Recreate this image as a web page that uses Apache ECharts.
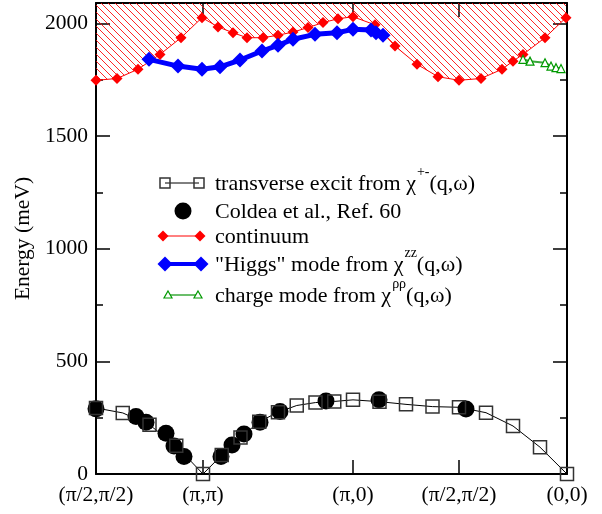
<!DOCTYPE html>
<html>
<head>
<meta charset="utf-8">
<script src="https://cdn.jsdelivr.net/npm/echarts@6/dist/echarts.min.js"></script>
<style>
  body { margin: 0; background: #fff; }
  #chart { width: 602px; height: 514px; }
</style>
</head>
<body>
<div id="chart"></div>
<script>
// x positions along the path (pixel-like units), tick labels of symmetry points
const xTickPos = [0, 107, 257, 363, 471]
const xTickLabels = ['(π/2,π/2)', '(π,π)', '(π,0)', '(π/2,π/2)', '(0,0)']

// transverse excitation from chi+-
const transX = [0, 26.75, 53.5, 80.25, 107, 125.75, 144.5, 163.25, 182, 200.75, 219.5, 238.25, 257, 283.5, 310, 336.5, 363, 390, 417, 444, 471]
const transY = [293, 271, 218, 125, 0, 84, 162, 232, 274, 304, 317, 322, 329, 321, 309, 299, 296, 272, 213, 119, 0]

// Coldea et al. experimental points
const coldeaX = [0, 40, 50, 70, 78, 88, 125, 136, 148, 164, 184, 230, 283, 370]
const coldeaY = [289, 255, 230, 181, 124, 78, 78, 129, 178, 230, 277, 324, 329, 288]

// continuum lower edge
const contX = [0, 21, 42, 64, 85, 106, 122, 137, 151, 167, 182, 197, 212, 227, 242, 257, 279, 299, 321, 342, 363, 385, 406, 417, 427, 449, 470]
const contY = [1747, 1755, 1796, 1862, 1936, 2025, 1984, 1958, 1936, 1936, 1947, 1961, 1981, 2003, 2020, 2029, 1993, 1899, 1818, 1763, 1747, 1755, 1796, 1832, 1862, 1936, 2025]

// "Higgs" mode from chi zz
const higgsX = [53, 82, 106, 124, 144, 166, 182, 197, 219, 241, 257, 275, 280, 287]
const higgsY = [1840, 1810, 1796, 1807, 1837, 1877, 1902, 1929, 1951, 1958, 1973, 1970, 1958, 1947]

// charge mode from chi rho rho
const chargeX = [427, 434, 449, 455, 460, 465]
const chargeY = [1840, 1832, 1825, 1810, 1803, 1799]

const zip = (xs, ys) => xs.map((x, i) => [x, ys[i]])

const FONT = 'Liberation Serif'

// hatch pattern for the continuum region
function makeHatch() {
    const s = 7
    const c = document.createElement('canvas')
    c.width = s
    c.height = s
    const ctx = c.getContext('2d')
    ctx.strokeStyle = 'rgba(255, 0, 0, 0.85)'
    ctx.lineWidth = 1
    ctx.beginPath()
    ctx.moveTo(0, 0)
    ctx.lineTo(s, s)
    ctx.moveTo(-1, s - 1)
    ctx.lineTo(1, s + 1)
    ctx.moveTo(s - 1, -1)
    ctx.lineTo(s + 1, 1)
    ctx.stroke()
    return c
}

const chart = echarts.init(document.getElementById('chart'))

const xCommon = {
    type: 'value',
    min: 0,
    max: 471,
    axisLine: { show: true, onZero: false, lineStyle: { color: '#000', width: 2 } },
    axisTick: { show: true, inside: true, length: 14, customValues: xTickPos, lineStyle: { color: '#000', width: 1.5 } },
    splitLine: { show: false }
}
const yCommon = {
    type: 'value',
    min: 0,
    max: 2090,
    interval: 500,
    axisLine: { show: true, onZero: false, lineStyle: { color: '#000', width: 2 } },
    axisTick: { show: true, inside: true, length: 14, lineStyle: { color: '#000', width: 1.5 } },
    minorTick: { show: true, splitNumber: 2, length: 7, lineStyle: { color: '#000', width: 1.5 } },
    splitLine: { show: false }
}

// legend rows, drawn by hand to copy the grace-style legend
const lgX0 = 215
const rows = [183, 211, 236, 264, 295]
const legendRich = {
    n: { fontSize: 22, fontFamily: FONT, fill: '#000', lineHeight: 24, verticalAlign: 'bottom' },
    // taller line so the superscript sits higher
    m: { fontSize: 22, fontFamily: FONT, fill: '#000', lineHeight: 30, verticalAlign: 'bottom' },
    sup: { fontSize: 14, fontFamily: FONT, fill: '#000', lineHeight: 14, verticalAlign: 'top', padding: [0, 0, 0, 1] }
}

function legendText(y, text, dy) {
    return {
        type: 'text',
        x: lgX0,
        y: y + (dy || 0),
        style: {
            text: text,
            fontSize: 22,
            fontFamily: FONT,
            fill: '#000',
            verticalAlign: 'middle',
            rich: legendRich
        }
    }
}
function diamond(cx, cy, r, color) {
    return { type: 'polygon', shape: { points: [[cx - r, cy], [cx, cy - r], [cx + r, cy], [cx, cy + r]] }, style: { fill: color } }
}

const graphic = [
    // row 1: open squares + line
    { type: 'line', shape: { x1: 165, y1: rows[0], x2: 199, y2: rows[0] }, style: { stroke: '#000', lineWidth: 1 } },
    { type: 'rect', shape: { x: 160, y: rows[0] - 5, width: 10, height: 10 }, style: { fill: 'none', stroke: '#333', lineWidth: 1.5 } },
    { type: 'rect', shape: { x: 194, y: rows[0] - 5, width: 10, height: 10 }, style: { fill: 'none', stroke: '#333', lineWidth: 1.5 } },
    legendText(rows[0], '{m|transverse excit from χ}{sup|+-}{m|(q,ω)}', -3),
    // row 2: filled circle
    { type: 'circle', shape: { cx: 183, cy: rows[1], r: 8.5 }, style: { fill: '#000' } },
    legendText(rows[1], '{n|Coldea et al., Ref. 60}'),
    // row 3: red diamonds
    { type: 'line', shape: { x1: 163, y1: rows[2], x2: 200, y2: rows[2] }, style: { stroke: '#ff0000', lineWidth: 1 } },
    diamond(163, rows[2], 5.5, '#ff0000'),
    diamond(200, rows[2], 5.5, '#ff0000'),
    legendText(rows[2], '{n|continuum}'),
    // row 4: blue diamonds
    { type: 'line', shape: { x1: 165, y1: rows[3], x2: 201, y2: rows[3] }, style: { stroke: '#0000ff', lineWidth: 4 } },
    diamond(165, rows[3], 7.5, '#0000ff'),
    diamond(201, rows[3], 7.5, '#0000ff'),
    legendText(rows[3], '{m|"Higgs" mode from χ}{sup|zz}{m|(q,ω)}', -3),
    // row 5: green open triangles
    { type: 'line', shape: { x1: 168, y1: rows[4], x2: 198, y2: rows[4] }, style: { stroke: '#3aa83a', lineWidth: 1.5 } },
    { type: 'polygon', shape: { points: [[168, rows[4] - 4], [172, rows[4] + 3], [164, rows[4] + 3]] }, style: { fill: '#fff', stroke: '#009900', lineWidth: 1.2 } },
    { type: 'polygon', shape: { points: [[198, rows[4] - 4], [202, rows[4] + 3], [194, rows[4] + 3]] }, style: { fill: '#fff', stroke: '#009900', lineWidth: 1.2 } },
    legendText(rows[4], '{m|charge mode from χ}{sup|ρρ}{m|(q,ω)}', -3)
]

chart.setOption({
    backgroundColor: '#fff',
    animation: false,
    textStyle: { fontFamily: FONT },
    grid: { left: 96, right: 35, top: 3, bottom: 40 },
    xAxis: [
        Object.assign({}, xCommon, {
            position: 'bottom',
            axisLabel: {
                show: true,
                customValues: xTickPos,
                margin: 10,
                fontSize: 21.5,
                fontFamily: FONT,
                color: '#000',
                formatter: (v) => xTickLabels[xTickPos.indexOf(v)]
            }
        }),
        Object.assign({}, xCommon, { position: 'top', axisLabel: { show: false } })
    ],
    yAxis: [
        Object.assign({}, yCommon, {
            position: 'left',
            name: 'Energy (meV)',
            nameLocation: 'middle',
            nameRotate: 90,
            nameGap: 54,
            nameTextStyle: { fontSize: 21.5, fontFamily: FONT, color: '#000' },
            axisLabel: {
                show: true,
                margin: 8,
                fontSize: 21.5,
                fontFamily: FONT,
                color: '#000',
                showMaxLabel: false,
                formatter: (v) => String(v)
            }
        }),
        Object.assign({}, yCommon, { position: 'right', axisLabel: { show: false } })
    ],
    series: [
        {
            name: 'continuum',
            type: 'line',
            data: zip(contX, contY),
            symbol: 'diamond',
            symbolSize: 11,
            itemStyle: { color: '#ff0000' },
            lineStyle: { color: '#ff0000', width: 1 },
            areaStyle: { origin: 'end', color: { image: makeHatch(), repeat: 'repeat' }, opacity: 1 }
        },
        {
            name: 'transverse',
            type: 'line',
            data: zip(transX, transY),
            symbol: 'rect',
            symbolSize: 13,
            itemStyle: { color: 'rgba(0,0,0,0)', borderColor: '#333', borderWidth: 1.5 },
            lineStyle: { color: '#000', width: 1 }
        },
        {
            name: 'Coldea',
            type: 'scatter',
            data: zip(coldeaX, coldeaY),
            symbol: 'circle',
            symbolSize: 17,
            itemStyle: { color: '#000', opacity: 1 }
        },
        {
            name: 'Higgs',
            type: 'line',
            data: zip(higgsX, higgsY),
            symbol: 'diamond',
            symbolSize: 15,
            itemStyle: { color: '#0000ff' },
            lineStyle: { color: '#0000ff', width: 5 }
        },
        {
            name: 'charge',
            type: 'line',
            data: zip(chargeX, chargeY),
            symbol: 'triangle',
            symbolSize: 8,
            itemStyle: { color: '#fff', borderColor: '#009900', borderWidth: 1.2 },
            lineStyle: { color: '#3aa83a', width: 2 }
        }
    ],
    graphic: graphic
})
</script>
</body>
</html>
